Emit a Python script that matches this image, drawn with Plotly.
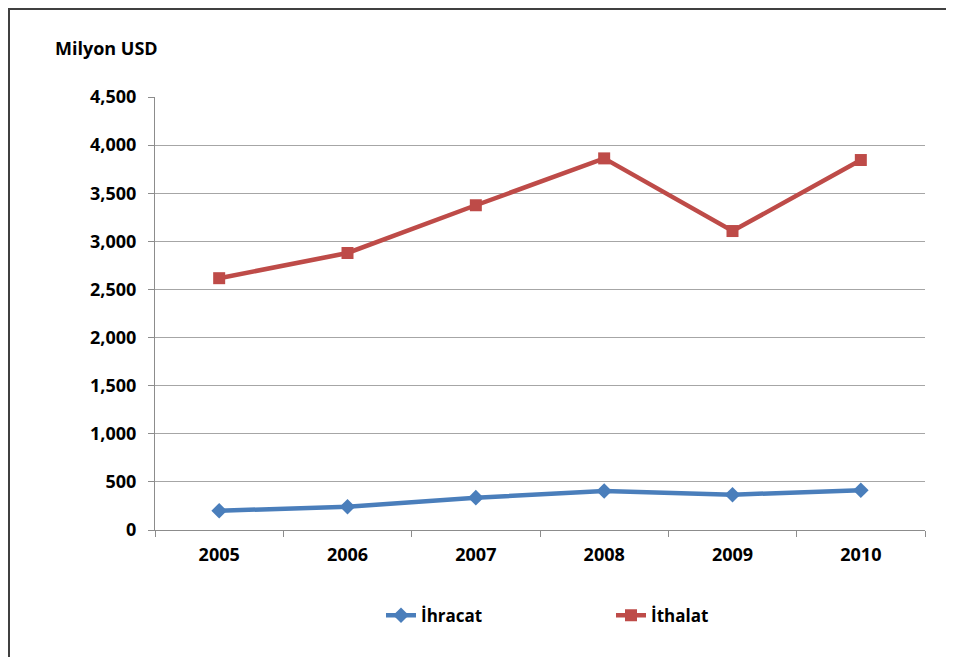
import plotly.graph_objects as go

years = ["2005", "2006", "2007", "2008", "2009", "2010"]
ihracat = [200, 242, 336, 405, 367, 413]
ithalat = [2617, 2879, 3375, 3862, 3107, 3845]
y_ticks = [0, 500, 1000, 1500, 2000, 2500, 3000, 3500, 4000, 4500]
y_labels = ["0", "500", "1,000", "1,500", "2,000", "2,500", "3,000", "3,500", "4,000", "4,500"]

FONT = "'Open Sans', Lato, sans-serif"

# page is rendered with an 8px body margin; the layout compensates for it
PW, PH = 770, 433           # plot area size
L, T = 147, 89              # margins (page 155/97 minus 8px offset)
W, H = 946, 649

def px(x):  # page x -> paper x
    return (x - 155) / PW

def py(y):  # page y -> paper y
    return (530 - y) / PH

fig = go.Figure()
fig.add_trace(go.Scatter(
    x=years, y=ihracat, name="İhracat", mode="lines+markers",
    line=dict(color="#4A7EBB", width=4.5),
    marker=dict(symbol="diamond", size=12, color="#4A7EBB"),
))
fig.add_trace(go.Scatter(
    x=years, y=ithalat, name="İthalat", mode="lines+markers",
    line=dict(color="#BE4B48", width=4.5),
    marker=dict(symbol="square", size=12, color="#BE4B48"),
))

fig.update_layout(
    width=W, height=H,
    margin=dict(l=L, r=W - L - PW, t=T, b=H - T - PH, pad=0),
    paper_bgcolor="white", plot_bgcolor="white",
    font=dict(family=FONT, size=17, color="black"),
    showlegend=True,
    legend=dict(orientation="h", x=px(381), xanchor="left", y=-0.198, yanchor="middle",
                font=dict(family=FONT, size=17, color="black", weight="bold"),
                entrywidth=185, itemwidth=30),
    xaxis=dict(type="category", showgrid=False, showline=True, linecolor="#8C8C8C",
               ticks="outside", tickson="boundaries", ticklen=6, tickcolor="#8C8C8C",
               ticklabelstandoff=8,
               tickfont=dict(family=FONT, size=18, color="black", weight="bold"),
               range=[-0.5, 5.5]),
    yaxis=dict(range=[0, 4500], tickvals=y_ticks, ticktext=y_labels,
               showgrid=True, gridcolor="#A6A6A6", gridwidth=1,
               showline=True, linecolor="#8C8C8C", ticks="outside", ticklen=6,
               tickcolor="#8C8C8C", zeroline=False, ticklabelstandoff=8,
               tickfont=dict(family=FONT, size=18, color="black", weight="bold")),
    shapes=[dict(type="rect", xref="paper", yref="paper",
                 x0=px(9), x1=px(951), y0=py(670), y1=py(9),
                 line=dict(color="#404040", width=2), fillcolor="rgba(0,0,0,0)", layer="below")],
    annotations=[dict(text="Milyon USD", xref="paper", yref="paper",
                      x=px(53), xanchor="left", y=py(48), yanchor="middle",
                      showarrow=False, font=dict(family=FONT, size=18, color="black", weight="bold"))],
)

fig.write_html("out.html")
